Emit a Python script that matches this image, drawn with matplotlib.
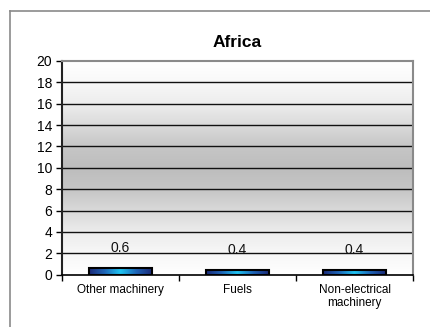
import numpy as np
import matplotlib
matplotlib.use("Agg")
import matplotlib.pyplot as plt
from matplotlib.colors import LinearSegmentedColormap
from matplotlib.lines import Line2D

categories = ["Other machinery", "Fuels", "Non-electrical\nmachinery"]
values = [0.6, 0.4, 0.4]
value_labels = ["0.6", "0.4", "0.4"]
yticks = [0, 2, 4, 6, 8, 10, 12, 14, 16, 18, 20]

plt.rcParams['font.family'] = ['Liberation Sans', 'DejaVu Sans']

fig = plt.figure(figsize=(4.30, 3.27), dpi=100)
fig.patch.set_facecolor('white')

# outer frame
fig.add_artist(Line2D([10/430, 10/430], [0, 1 - 11/327], transform=fig.transFigure, color='#8a8a8a', lw=1.2))
fig.add_artist(Line2D([10/430, 1], [1 - 11/327, 1 - 11/327], transform=fig.transFigure, color='#8a8a8a', lw=1.2))

ax = fig.add_axes([62/430, 1 - 274.7/327, (413 - 62)/430, (274.7 - 61)/327])
x = np.arange(len(categories)) + 0.5
ax.set_xlim(0, 3)
ax.set_ylim(0, 20)

# background vertical gradient
bg = LinearSegmentedColormap.from_list('bg', [
    (0.0, '#ffffff'), (0.1, '#f7f7f7'), (0.2, '#ececec'), (0.3, '#d9d9d9'),
    (0.4, '#c6c6c6'), (0.5, '#bdbdbd'), (0.6, '#c6c6c6'), (0.7, '#dadada'),
    (0.8, '#ededed'), (0.9, '#f8f8f8'), (1.0, '#ffffff')])
grad = np.linspace(0, 1, 256).reshape(-1, 1)
ax.imshow(grad, extent=[0, 3, 0, 20], aspect='auto', cmap=bg, origin='lower', zorder=0)

for t in yticks[1:-1]:
    ax.axhline(t, color='#111111', lw=1.0, zorder=1)

# bars with horizontal gradient
barcm = LinearSegmentedColormap.from_list('bar', ['#1b2a78', '#1f66b8', '#1ec4f2', '#1f66b8', '#1b2a78'])
hgrad = np.linspace(0, 1, 256).reshape(1, -1)
width = 0.53
bars = ax.bar(x, values, width=width, color='none', edgecolor='#000000', linewidth=1.5, zorder=3)
for b in bars:
    im = ax.imshow(hgrad, extent=[b.get_x(), b.get_x() + b.get_width(), 0, b.get_height()],
                   aspect='auto', cmap=barcm, zorder=2)
    im.set_clip_path(b)

for xi, v, lab in zip(x, values, value_labels):
    ax.annotate(lab, (xi, v), xytext=(0, 14.5), textcoords='offset points',
                ha='center', va='center', fontsize=10, color='#111111', zorder=4)

ax.set_yticks(yticks)
ax.set_yticklabels([str(t) for t in yticks], fontsize=10)
ax.set_xticks(x)
ax.set_xticklabels(categories, fontsize=8.5, linespacing=1.1)
ax.set_xticks([0, 1, 2, 3], minor=True)
ax.tick_params(axis='x', which='major', length=0, pad=7)
ax.tick_params(axis='x', which='minor', length=4, direction='out', color='#000000', width=1)
ax.tick_params(axis='y', length=4, direction='out', width=1, pad=3)

ax.spines['left'].set_color('#222222')
ax.spines['left'].set_linewidth(1.5)
ax.spines['bottom'].set_color('#000000')
ax.spines['bottom'].set_linewidth(1.2)
ax.spines['top'].set_color('#8a8a8a')
ax.spines['top'].set_linewidth(1.5)
ax.spines['right'].set_color('#8a8a8a')
ax.spines['right'].set_linewidth(1.5)

ax.set_title('Africa', fontsize=12.5, fontweight='bold', pad=10)

fig.savefig('out.png', dpi=100)
